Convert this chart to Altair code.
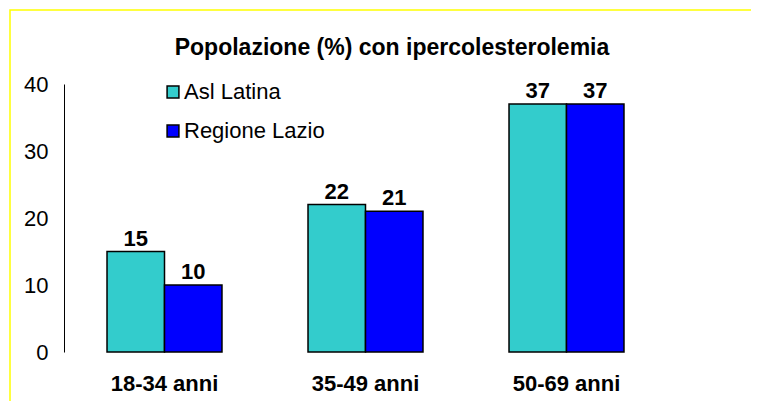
import altair as alt
import pandas as pd

categories = ["18-34 anni", "35-49 anni", "50-69 anni"]
series = ["Asl Latina", "Regione Lazio"]
asl_latina = [15, 22, 37]
regione_lazio = [10, 21, 37]
colors = ["#33CCCC", "#0000FF"]
title_text = "Popolazione (%) con ipercolesterolemia"

rows = []
for c, a, r in zip(categories, asl_latina, regione_lazio):
    rows.append({"cat": c, "serie": series[0], "val": a})
    rows.append({"cat": c, "serie": series[1], "val": r})
df = pd.DataFrame(rows)

FONT = "Liberation Sans"
FS = 22
W, H = 603, 268

base = alt.Chart(df).encode(
    x=alt.X("cat:N", sort=categories, title=None,
            scale=alt.Scale(paddingInner=0.428, paddingOuter=0.214),
            axis=alt.Axis(domain=False, ticks=False, labelAngle=0,
                          labelFont=FONT, labelFontSize=FS, labelFontWeight="bold",
                          labelColor="black", labelBaseline="top", labelPadding=21)),
    xOffset=alt.XOffset("serie:N", sort=series),
)

bars = base.mark_bar(stroke="black", strokeWidth=1.5).encode(
    y=alt.Y("val:Q", title=None, scale=alt.Scale(domain=[0, 40], nice=False),
            axis=alt.Axis(values=[0, 10, 20, 30, 40], grid=False, ticks=False,
                          domainColor="black", domainWidth=1,
                          labelFont=FONT, labelFontSize=FS, labelColor="black",
                          labelPadding=16)),
    color=alt.Color("serie:N", sort=series,
                    scale=alt.Scale(domain=series, range=colors),
                    legend=alt.Legend(title=None, orient="none", legendX=98, legendY=-3,
                                      symbolType="square", symbolSize=140,
                                      symbolStrokeColor="black", symbolStrokeWidth=1.5,
                                      labelFont=FONT, labelFontSize=FS, labelColor="black",
                                      labelOffset=0, rowPadding=17)),
)

labels = base.mark_text(baseline="bottom", dy=-1, font=FONT, fontSize=FS,
                        fontWeight="bold", color="black").encode(
    y=alt.Y("val:Q"),
    text=alt.Text("val:Q"),
)

frame = alt.Chart(alt.Data(values=[{}])).mark_rect(
    fill="transparent", stroke="#FFFF00", strokeWidth=1.5
).encode(
    x=alt.value(-54), x2=alt.value(W + 120),
    y=alt.value(-74), y2=alt.value(H + 100),
)

title = alt.Chart(alt.Data(values=[{"t": title_text}])).mark_text(
    font=FONT, fontSize=23, fontWeight="bold", color="black",
    align="center", baseline="middle"
).encode(
    x=alt.value(328), y=alt.value(-36), text="t:N",
)

chart = alt.layer(frame, bars, labels, title).properties(
    width=W, height=H,
    autosize=alt.AutoSizeParams(type="none"),
    padding={"left": 56, "top": 76, "right": 84, "bottom": 49},
    background="white",
).configure_view(stroke=None)

chart.save("out.html", embed_options={"renderer": "svg", "actions": False})
